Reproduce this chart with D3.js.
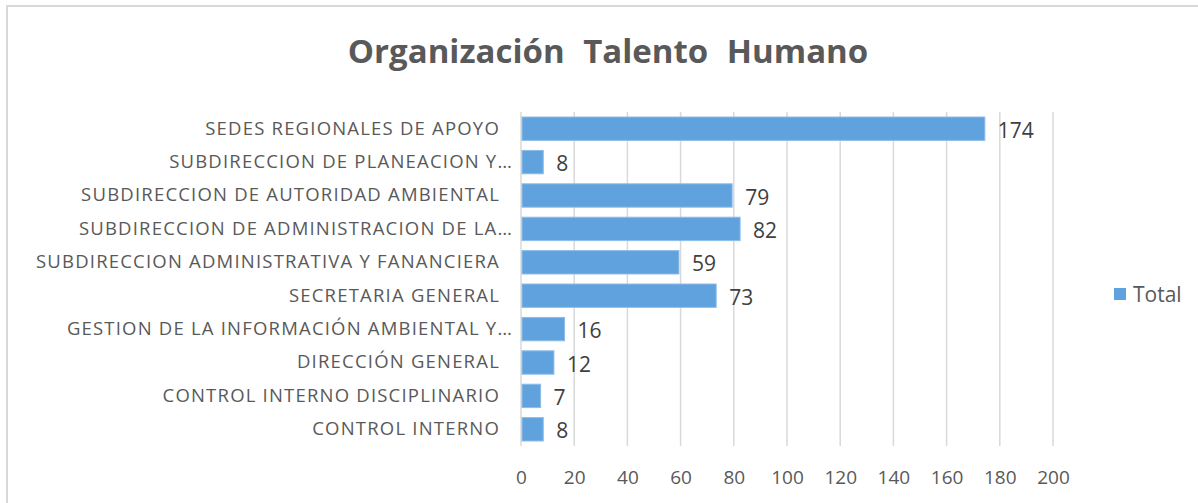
<!DOCTYPE html>
<html>
<head>
<meta charset="utf-8">
<script src="https://cdn.jsdelivr.net/npm/d3@7"></script>
<style>
  body { margin: 0; background: #fff; }
  svg { display: block; }
  text { font-family: "Open Sans", Lato, sans-serif; }
</style>
</head>
<body>
<svg width="1198" height="503"></svg>
<script>
// categories, top to bottom as in the chart
let categories = [
  "SEDES REGIONALES DE APOYO",
  "SUBDIRECCION DE PLANEACION Y…",
  "SUBDIRECCION DE AUTORIDAD AMBIENTAL",
  "SUBDIRECCION DE ADMINISTRACION DE LA…",
  "SUBDIRECCION ADMINISTRATIVA Y FANANCIERA",
  "SECRETARIA GENERAL",
  "GESTION DE LA INFORMACIÓN AMBIENTAL Y…",
  "DIRECCIÓN GENERAL",
  "CONTROL INTERNO DISCIPLINARIO",
  "CONTROL INTERNO"
];
let totals = [174, 8, 79, 82, 59, 73, 16, 12, 7, 8];
let ticks = [0, 20, 40, 60, 80, 100, 120, 140, 160, 180, 200];
let seriesName = "Total";

let svg = d3.select("svg"),
    width = +svg.attr("width"),
    height = +svg.attr("height");

let data = categories.map(function(c, i) { return {name: c, value: totals[i]}; });

// chart border (only left and top show in the frame)
svg.append("path")
    .attr("d", "M7,503V6H1198")
    .attr("fill", "none")
    .attr("stroke", "#d9d9d9")
    .attr("stroke-width", 2);

svg.append("text")
    .attr("x", 608)
    .attr("y", 63)
    .attr("text-anchor", "middle")
    .attr("font-size", 33)
    .attr("font-weight", "bold")
    .attr("fill", "#595959")
    .attr("word-spacing", 10)
    .text("Organización Talento Humano");

let x = d3.scaleLinear()
    .domain([0, 200])
    .range([521, 1053]);

let y = d3.scaleBand()
    .domain(categories)
    .range([112, 446])
    .paddingInner(0.3)
    .paddingOuter(0.15);

// gridlines
svg.append("g")
    .selectAll("line")
    .data(ticks)
    .enter().append("line")
      .attr("x1", function(d) { return x(d); })
      .attr("x2", function(d) { return x(d); })
      .attr("y1", 112)
      .attr("y2", 446)
      .attr("stroke", "#d9d9d9")
      .attr("stroke-width", 1.5);

// x axis labels
let xAxis = svg.append("g")
    .attr("transform", "translate(0,446)")
    .call(d3.axisBottom(x).tickValues(ticks).tickSize(0).tickPadding(25));
xAxis.select(".domain").remove();
xAxis.selectAll("text")
    .attr("font-size", 19)
    .attr("font-family", "'Open Sans', sans-serif")
    .attr("fill", "#595959");

// category labels
let yAxis = svg.append("g")
    .attr("transform", "translate(513,0)")
    .call(d3.axisLeft(y).tickSize(0).tickPadding(0));
yAxis.select(".domain").remove();
yAxis.selectAll("text")
    .attr("font-size", 18.5)
    .attr("letter-spacing", 1.2)
    .attr("font-family", "'Open Sans', sans-serif")
    .attr("fill", "#595959")
    .attr("dx", function(d) { return d.endsWith("…") ? 0 : -13; });

// bars
svg.append("g")
    .selectAll("rect")
    .data(data)
    .enter().append("rect")
      .attr("x", x(0) + 1)
      .attr("y", function(d) { return y(d.name); })
      .attr("width", function(d) { return x(d.value) - x(0); })
      .attr("height", y.bandwidth())
      .attr("fill", "#60a2de")
      .attr("stroke", "#8dbde8")
      .attr("stroke-width", 1);

// value labels
svg.append("g")
    .selectAll("text")
    .data(data)
    .enter().append("text")
      .attr("x", function(d) { return x(d.value) + 14; })
      .attr("y", function(d) { return y(d.name) + y.bandwidth() / 2 + 9; })
      .attr("font-size", 21)
      .attr("fill", "#404040")
      .text(function(d) { return d.value; });

// legend
let legend = svg.append("g").attr("transform", "translate(1114,288)");
legend.append("rect")
    .attr("width", 12)
    .attr("height", 12)
    .attr("fill", "#60a2de");
legend.append("text")
    .attr("x", 19)
    .attr("y", 14)
    .attr("font-size", 21)
    .attr("fill", "#595959")
    .text(seriesName);
</script>
</body>
</html>
